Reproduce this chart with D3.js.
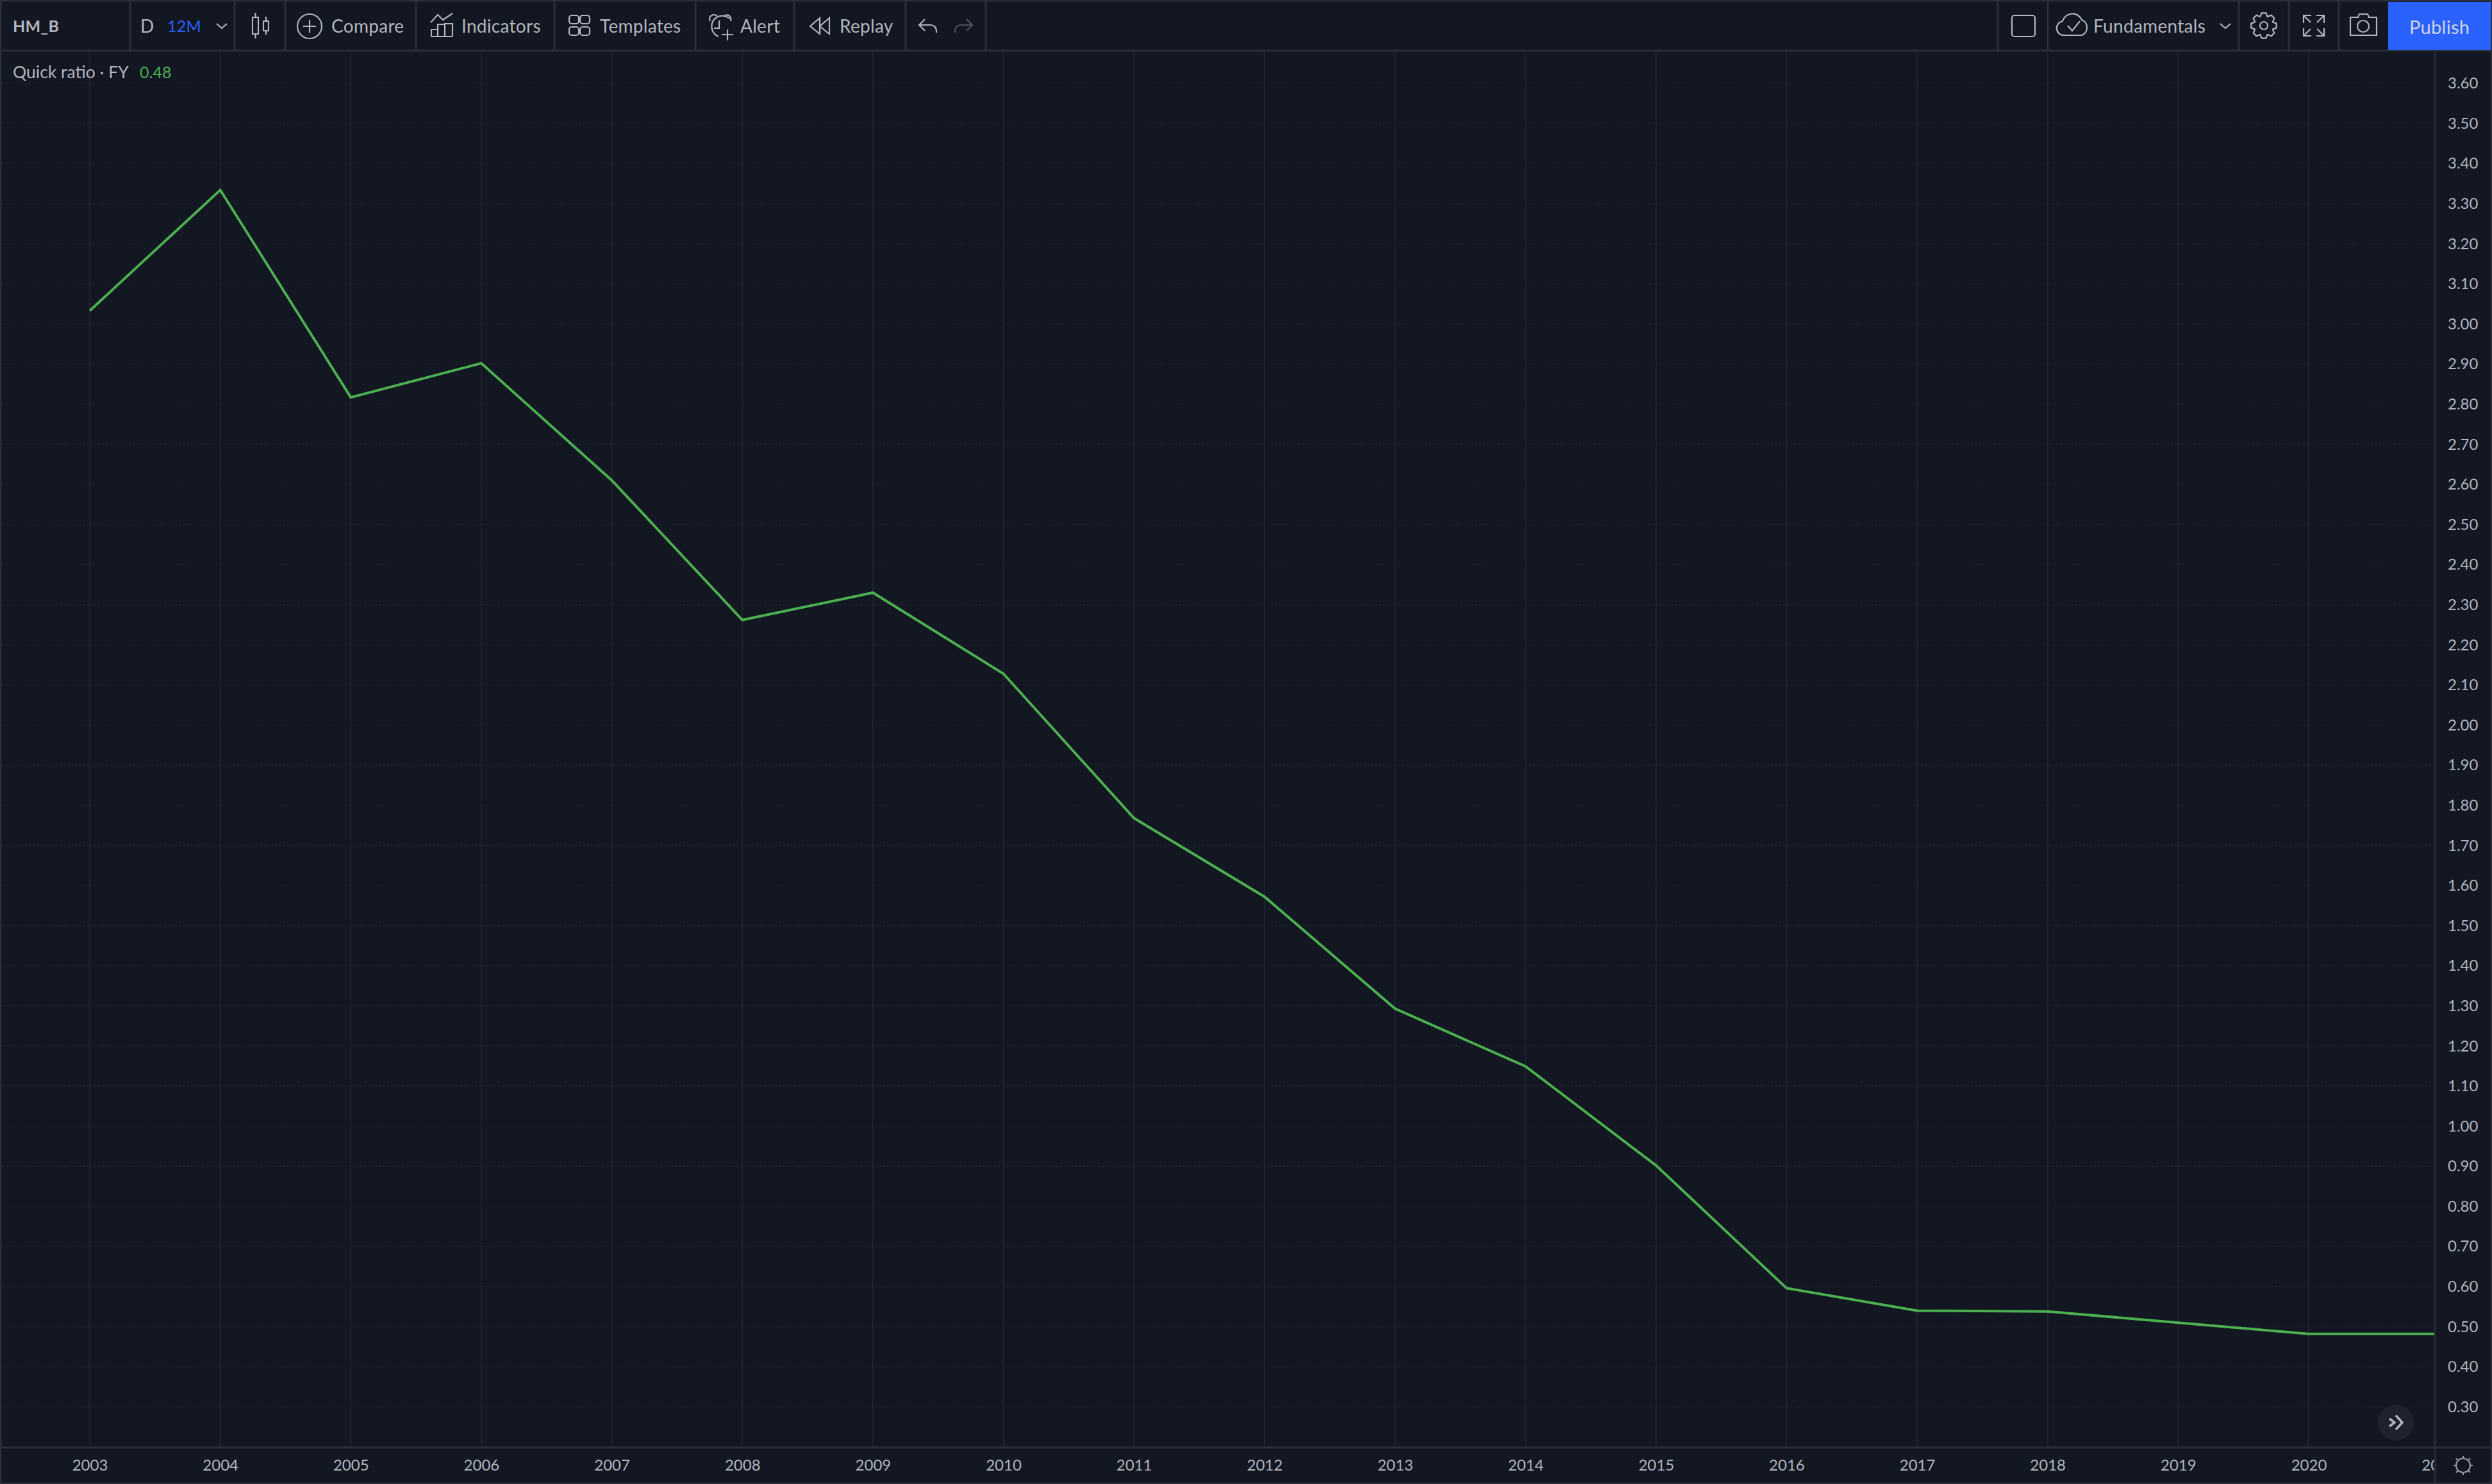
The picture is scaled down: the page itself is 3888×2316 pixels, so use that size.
<!DOCTYPE html>
<html>
<head>
<meta charset="utf-8">
<script src="https://cdnjs.cloudflare.com/ajax/libs/d3/7.8.5/d3.min.js"></script>
<style>
html,body{margin:0;padding:0;background:#131722}
svg{display:block}
text{font-family:Lato,"Open Sans",sans-serif;fill:#b2b5be}
.axis path,.axis line{display:none}
.axis text{font-size:24px;fill:#b2b5be;font-family:Lato,sans-serif}
.tb{font-size:28px;dominant-baseline:central;letter-spacing:.3px}
.ic{fill:none;stroke:#b2b5be;stroke-width:2.2}
</style>
</head>
<body>
<script>
const years = [2003,2004,2005,2006,2007,2008,2009,2010,2011,2012,2013,2014,2015,2016,2017,2018,2019,2020,2021];
const quickRatio = [3.033,3.334,2.817,2.902,2.61,2.262,2.33,2.128,1.768,1.572,1.293,1.149,0.902,0.596,0.54,0.538,0.51,0.482,0.482];
const priceTicks = [3.6,3.5,3.4,3.3,3.2,3.1,3.0,2.9,2.8,2.7,2.6,2.5,2.4,2.3,2.2,2.1,2.0,1.9,1.8,1.7,1.6,1.5,1.4,1.3,1.2,1.1,1.0,0.9,0.8,0.7,0.6,0.5,0.4,0.3];
const toolbarLeft = [["D",219],["Compare",517],["Indicators",720],["Templates",936],["Alert",1155],["Replay",1310],["Fundamentals",3266]];
const toolbarSeps = [203,366,445,649,865,1085,1239,1413,1538,3117,3195,3493,3571,3649];

const W=3888,H=2316,paneR=3799,paneB=2259,topB=79;
const svg=d3.select("body").append("svg").attr("width",W).attr("height",H);
svg.append("rect").attr("width",W).attr("height",H).attr("fill","#131722");
svg.append("clipPath").attr("id","pane").append("rect").attr("x",2).attr("y",topB).attr("width",paneR-2).attr("height",paneB-topB);
svg.append("clipPath").attr("id","tax").append("rect").attr("x",2).attr("y",paneB).attr("width",paneR-2).attr("height",H-paneB);

const x=d3.scaleLinear().domain([2003,2020]).range([140,3602]);
const y=d3.scaleLinear().domain([3.6,0.3]).range([130,2195.7]);

// grid
const grid=svg.append("g").attr("clip-path","url(#pane)");
grid.selectAll(".v").data(years).join("line")
  .attr("x1",d=>x(d)).attr("x2",d=>x(d)).attr("y1",topB).attr("y2",paneB)
  .attr("stroke","#20242f").attr("stroke-width",2);
grid.selectAll(".h").data(priceTicks).join("line")
  .attr("x1",4).attr("x2",paneR-4).attr("y1",d=>y(d)).attr("y2",d=>y(d))
  .attr("stroke","#20242f").attr("stroke-width",1.6).attr("stroke-dasharray","2 4");

// series
const line=d3.line().x((d,i)=>x(years[i])).y(d=>y(d));
grid.append("path").datum(quickRatio).attr("d",line).attr("fill","none")
  .attr("stroke","#4caf50").attr("stroke-width",4).attr("stroke-linejoin","miter");

// axes
svg.append("g").attr("clip-path","url(#tax)").append("g").attr("class","axis")
  .attr("transform",`translate(0,${paneB})`)
  .call(d3.axisBottom(x).tickValues(years).tickFormat(d3.format("d")).tickSize(0).tickPadding(19));
svg.append("g").attr("class","axis").attr("transform",`translate(${paneR},0)`)
  .call(d3.axisRight(y).tickValues(priceTicks).tickFormat(d3.format(".2f")).tickSize(0).tickPadding(20));

// frame
const bc="#2a2e39";
const hl=(x1,y1,x2,y2)=>svg.append("line").attr("x1",x1).attr("y1",y1).attr("x2",x2).attr("y2",y2).attr("stroke",bc).attr("stroke-width",3);
hl(0,1,W,1);hl(0,topB,W,topB);hl(0,paneB,W,paneB);hl(0,H-1,W,H-1);hl(1,0,1,H);hl(W-1,0,W-1,H);
hl(paneR,topB,paneR,H);
toolbarSeps.forEach(s=>hl(s,2,s,topB));

// publish
svg.append("rect").attr("x",3726).attr("y",3).attr("width",160).attr("height",75).attr("fill","#2962ff");

// toolbar text
svg.selectAll(".tbt").data(toolbarLeft).join("text").attr("class","tb")
  .attr("x",d=>d[1]).attr("y",40).text(d=>d[0]);
svg.append("text").attr("class","tb").attr("x",20).attr("y",40).style("font-size","25px").style("font-weight",700).text("HM_B");
svg.append("text").attr("class","tb").attr("x",261).attr("y",40).style("font-size","25px").style("fill","#2962ff").text("12M");
svg.append("text").attr("class","tb").attr("x",3759).attr("y",41).style("font-size","29px").style("fill","#d1d4dc").text("Publish");
svg.append("text").attr("x",20).attr("y",112).style("font-size","26.5px").style("dominant-baseline","central").text("Quick ratio · FY");
svg.append("text").attr("x",218).attr("y",112).style("font-size","25px").style("dominant-baseline","central").style("fill","#4caf50").text("0.48");

// icons
const ic=(d,c)=>{const p=svg.append("path").attr("class","ic").attr("d",d);if(c)p.style("stroke",c);return p;};
ic("M338 37l8 7l8-7");
ic("M398.5 20V27M398.5 53V60M394 27h9v26h-9zM415 26V33M415 48V54M411 33h8v15h-8z");
svg.append("circle").attr("class","ic").attr("cx",483).attr("cy",41).attr("r",19);
ic("M473 41h20M483 31v20");
ic("M672 35l11-12l8 8l15-10M673 57V46h10v11M683 57V38h11v19M694 57V37h12v20M673 57h33");
[[888,24],[905,24],[888,42],[905,42]].forEach(q=>svg.append("rect").attr("class","ic").attr("x",q[0]).attr("y",q[1]).attr("width",15).attr("height",13).attr("rx",4));
ic("M1121 57a17 17 0 0 1 -3-30a17 17 0 0 1 20 2M1108 33c-4-8 6-13 11-8M1130 25c5-4 12 0 10 8M1122 32v12h-8M1135 46v17M1126 54h18");
ic("M1279 28l-15 13l15 12zM1294 28l-15 13l15 12z");
ic("M1443 30l-9 9l9 9M1434 39h18a9 9 0 0 1 9 9v3");
ic("M1508 30l9 9l-9 9M1517 39h-18a9 9 0 0 0 -9 9v3","#50535e");
svg.append("rect").attr("class","ic").attr("x",3139).attr("y",24).attr("width",36).attr("height",33).attr("rx",4);
ic("M3222 55a11 11 0 0 1 -4-22a16 16 0 0 1 30-2a13 13 0 0 1 0 24zM3226 40l7 8l12-15");
ic("M3464 37l8 7l8-7");
svg.append("circle").attr("class","ic").attr("cx",3532).attr("cy",40).attr("r",6);
{
  const pts=[];const n=8;
  for(let i=0;i<n;i++){const a=i*2*Math.PI/n;const w=0.17;
    [[a-0.39+0.0,15],[a-w,20],[a+w,20],[a+0.39,15]].forEach(p=>pts.push([p[0],p[1]]));}
  ic(d3.lineRadial().curve(d3.curveLinearClosed)(pts)).attr("transform","translate(3532,40)");
}
ic("M3594 36v-12h12M3594 24l11 11M3626 36v-12h-12M3626 24l-11 11M3594 44v12h12M3594 56l11-11M3626 44v12h-12M3626 56l-11-11");
ic("M3667 27h12l2-5h13l2 5h12v28h-41z");
svg.append("circle").attr("class","ic").attr("cx",3687).attr("cy",41).attr("r",9);

// scroll button
svg.append("circle").attr("cx",3738).attr("cy",2220).attr("r",28).attr("fill","#1e222d");
ic("M3728 2214l8 6l-8 6").style("stroke-width",3.5);
ic("M3738 2209l10 11l-10 11").style("stroke-width",3.5);
// sun/settings
svg.append("circle").attr("class","ic").attr("cx",3843).attr("cy",2287).attr("r",11).style("stroke","#9598a1");
ic("M3843 2272v4M3843 2298v4M3828 2287h4M3854 2287h4M3832 2276l3 3M3851 2295l3 3M3854 2276l-3 3M3835 2295l-3 3","#9598a1");
</script>
</body>
</html>
